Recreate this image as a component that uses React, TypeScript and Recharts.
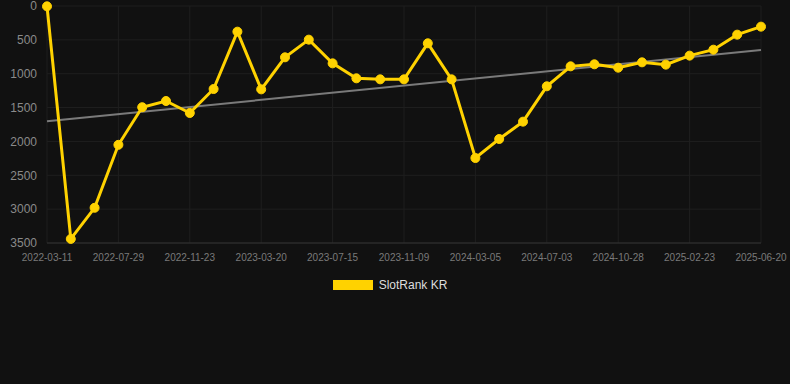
import { LineChart, CartesianGrid, Legend, Line, XAxis, YAxis, ReferenceLine } from 'recharts'

document.body.style.margin = '0'
document.body.style.background = '#111111'

const dates = [
    '2022-03-11', '2022-05-16', '2022-06-22', '2022-07-29', '2022-09-06', '2022-10-15',
    '2022-11-23', '2023-01-01', '2023-02-09', '2023-03-20', '2023-04-28', '2023-06-06',
    '2023-07-15', '2023-08-23', '2023-10-01', '2023-11-09', '2023-12-18', '2024-01-26',
    '2024-03-05', '2024-04-14', '2024-05-24', '2024-07-03', '2024-08-11', '2024-09-19',
    '2024-10-28', '2024-12-05', '2025-01-14', '2025-02-23', '2025-04-03', '2025-05-12',
    '2025-06-20',
]

const ranks = [
    5, 3440, 2980, 2050, 1495, 1403, 1580, 1226, 379, 1231, 758, 497,
    847, 1068, 1083, 1083, 551, 1083, 2245, 1964, 1708, 1186, 891, 861,
    911, 832, 866, 733, 645, 423, 305,
]

const yTicks = [0, 500, 1000, 1500, 2000, 2500, 3000, 3500]

// trend line end points
const trendStart = 1702
const trendEnd = 650

const data = dates.map((date, i) => ({ date, rank: ranks[i] }))

function LegendContent() {
    return (
        <div style={{ display: 'flex', justifyContent: 'center', alignItems: 'center', height: 20, position: 'relative', top: 2 }}>
            <span style={{ display: 'inline-block', width: 40, height: 10, background: '#FFD200', marginRight: 6 }} />
            <span style={{ color: '#dddddd', fontSize: 12, fontFamily: 'Arial, "Liberation Sans", sans-serif' }}>SlotRank KR</span>
        </div>
    )
}

export default function App() {
    return (
        <div style={{ width: 790, height: 384, background: '#111111' }}>
            <LineChart
                width={790}
                height={384}
                data={data}
                margin={{ top: 6, right: 29, left: 0, bottom: 91 }}
            >
                <CartesianGrid stroke="#1f1f1f" strokeWidth={1} />
                <XAxis
                    dataKey="date"
                    interval={2}
                    tickSize={0}
                    tickMargin={11}
                    height={30}
                    axisLine={{ stroke: '#333333' }}
                    tick={{ fill: '#7a7a7a', fontSize: 10, fontFamily: 'Arial, "Liberation Sans", sans-serif' }}
                />
                <YAxis
                    reversed
                    domain={[0, 3500]}
                    ticks={yTicks}
                    interval={0}
                    width={47}
                    tickSize={0}
                    tickMargin={10}
                    axisLine={false}
                    tick={{ fill: '#8a8a8a', fontSize: 12, fontFamily: 'Arial, "Liberation Sans", sans-serif' }}
                />
                <ReferenceLine
                    segment={[{ x: dates[0], y: trendStart }, { x: dates[dates.length - 1], y: trendEnd }]}
                    stroke="#7a7a7a"
                    strokeWidth={2}
                    ifOverflow="visible"
                />
                <Line
                    type="linear"
                    dataKey="rank"
                    name="SlotRank KR"
                    stroke="#FFD200"
                    strokeWidth={3}
                    dot={{ r: 4.5, fill: '#FFD200', stroke: '#FFD200', strokeWidth: 1 }}
                    activeDot={false}
                    isAnimationActive={false}
                />
                <Legend
                    verticalAlign="bottom"
                    content={<LegendContent />}
                    wrapperStyle={{ left: -5, width: 790 }}
                />
            </LineChart>
        </div>
    )
}
